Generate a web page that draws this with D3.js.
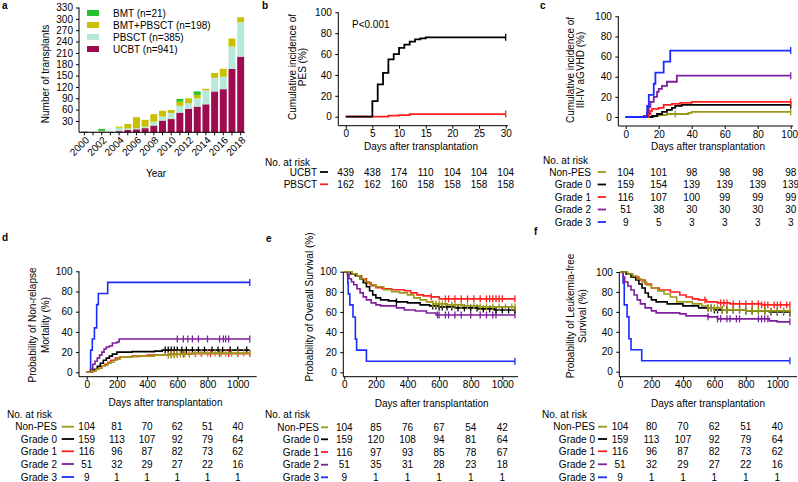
<!DOCTYPE html>
<html><head><meta charset="utf-8">
<script src="https://cdn.jsdelivr.net/npm/d3@7"></script>
<style>body{margin:0;background:#fff}svg{display:block;font-family:"Liberation Sans",Arial,sans-serif}</style>
</head><body><svg id="c" width="798" height="482"></svg>
<script>
// ---------- Panel a data ----------
const years = [2000,2001,2002,2003,2004,2005,2006,2007,2008,2009,2010,2011,2012,2013,2014,2015,2016,2017,2018];
const ucbt     = [2,1,2,1,3,6,8,11,18,31,35,52,62,68,74,108,114,168,200];
const pbsct    = [1,1,1,3,9,4,3,4,10,11,16,18,15,22,37,36,33,59,91];
const bmtPbsct = [0,0,1,0,3,12,29,18,20,15,8,11,13,9,4,13,21,21,13];
const bmt      = [0,0,5,0,0,0,0,0,0,0,0,7,0,9,0,0,0,0,0];
const legendA  = ["BMT (n=21)","BMT+PBSCT (n=198)","PBSCT (n=385)","UCBT (n=941)"];
const yTicksA  = [30,60,90,120,150,180,210,240,270,300,330];
const xLabelYears = [2000,2002,2004,2006,2008,2010,2012,2014,2016,2018];

// ---------- Panel b data ----------
const pesTicks = [0,5,10,15,20,25,30];
const pesUCBT  = [[0,0],[5,15],[6,31],[7,42],[8,55],[9,60],[10,66],[11,69],[12,72],[13,74],[14,75],[15,76],[30,76]];
const pesPBSCT = [[0,0],[8,1],[10,1.5],[12,2.5],[30,2.5]];
const pesRiskUCBT  = [439,438,174,110,104,104,104];
const pesRiskPBSCT = [162,162,160,158,158,158,158];

// ---------- Panel c data ----------
const gvhdTicks = [0,20,40,60,80,100];
const gvhdNon = [[0,0],[15,0],[17,1],[20,2],[25,3],[38,4],[40,5],[100,5]];
const gvhdG0  = [[0,0],[15,0],[16,1],[19,3],[22,5],[25,7],[28,9],[30,11],[34,12],[100,12]];
const gvhdG1  = [[0,0],[13,0],[14,3],[15,6],[16,8],[20,9],[23,12],[28,13],[33,14],[40,15],[100,15]];
const gvhdG2  = [[0,0],[10,0],[11,1],[13,4],[14,10],[15,15],[17,20],[19,25],[20,28],[22,31],[25,35],[31,41],[100,41]];
const gvhdG3  = [[0,0],[12,0],[13,11],[14,22],[17,33],[18,44],[23,55],[27,66],[100,66]];
const gvhdCensNon = [30,100];
const gvhdRisk = [[104,101,98,98,98,98],[159,154,139,139,139,139],[116,107,100,99,99,99],[51,38,30,30,30,30],[9,5,3,3,3,3]];

// ---------- Panel d data (NRM) ----------
const dayTicks = [0,200,400,600,800,1000];
const nrmNon = [[0,0],[30,1],[60,3],[80,4],[100,6],[120,7],[140,9],[160,10],[180,12],[200,13],[220,15],[300,15.5],[350,16],[450,17],[550,17.5],[600,18],[700,19],[1080,19]];
const nrmG0  = [[0,0],[30,1],[50,3],[70,6],[90,9],[110,12],[130,14],[150,16],[170,18],[200,20],[300,20.5],[450,21],[500,22],[1080,22]];
const nrmG1  = [[0,0],[40,1],[60,3],[80,4],[100,6],[120,8],[140,10],[160,12],[190,14],[220,15],[300,16],[400,17],[550,18],[650,18.5],[1080,18.5]];
const nrmG2  = [[0,0],[25,3],[40,8],[55,11],[70,14],[85,17],[100,20],[115,23],[130,25],[150,26],[170,29],[200,30],[215,33],[1080,33]];
const nrmG3  = [[0,0],[18,0],[26,22],[37,33],[51,44],[66,67],[77,78],[139,89],[1080,89]];
const nrmCensNon = [540,560,580,600,620,650,680,720,760,800,850,890,920,960,1000,1040,1080];
const nrmCensG0  = [520,540,560,580,600,630,660,700,740,780,830,870,900,950,1000,1060];
const nrmCensG1  = [560,580,600,640,680,720,760,820,880,940,1000,1080];
const nrmCensG2  = [600,640,670,700,740,800,880,905,920,940,1080];
const nrmRisk = [[104,81,70,62,51,40],[159,113,107,92,79,64],[116,96,87,82,73,62],[51,32,29,27,22,16],[9,1,1,1,1,1]];

// ---------- Panel e data (OS) ----------
const osNon = [[0,100],[50,98],[80,96],[100,93],[130,90],[160,87],[200,85],[250,82],[300,80],[350,79],[400,77],[440,74],[480,72],[520,70],[560,68],[650,67],[750,66],[850,65],[1080,65]];
const osG0  = [[0,100],[40,98],[70,96],[100,93],[120,89],[140,85],[160,81],[180,77],[200,74],[230,72],[280,71],[330,70],[400,69],[480,67],[540,66],[600,65],[700,64],[850,63],[950,62],[1080,62]];
const osG1  = [[0,100],[40,98],[80,96],[110,93],[140,89],[170,86],[200,84],[240,83],[300,82],[380,81],[420,79],[460,77],[500,76],[550,75],[600,73],[1080,73]];
const osG2  = [[0,100],[20,97],[30,93],[45,90],[60,87],[80,83],[100,79],[120,75],[140,72],[170,69],[200,67],[230,66],[330,64],[380,62],[450,61],[520,59],[580,57],[1080,57]];
const osG3  = [[0,100],[22,89],[25,78],[35,67],[55,55],[70,33],[78,22],[140,11],[1080,11]];
const osCensNon = [560,580,600,620,640,680,700,740,780,820,860,900,940,980,1020,1060,1080];
const osCensG0  = [330,560,580,600,620,650,680,720,760,800,840,880,920,960,1000,1040,1080];
const osCensG1  = [550,640,660,700,740,780,820,860,900,920,940,960,980,1000,1080];
const osCensG2  = [590,600,640,660,700,740,800,860,900,940,960,1080];
const osRisk = [[104,85,76,67,54,42],[159,120,108,94,81,64],[116,97,93,85,78,67],[51,35,31,28,23,18],[9,1,1,1,1,1]];

// ---------- Panel f data (LFS) ----------
const lfsNon = [[0,100],[50,98],[80,96],[110,93],[140,90],[170,87],[200,84],[240,81],[280,78],[320,75],[360,70],[460,68],[520,66],[560,64],[650,62],[800,61],[1080,60]];
const lfsG0  = [[0,100],[40,98],[70,95],[100,92],[120,88],[140,84],[160,79],[180,75],[200,72],[230,70],[300,68],[400,66],[500,64],[600,62],[800,61],[950,60],[1080,59]];
const lfsG1  = [[0,100],[40,98],[80,95],[120,92],[160,88],[200,84],[250,82],[320,80],[380,77],[420,75],[460,73],[500,72],[550,70],[620,69],[700,68],[900,67],[1080,67]];
const lfsG2  = [[0,100],[20,95],[30,90],[50,86],[70,82],[90,77],[110,72],[130,68],[160,64],[200,61],[230,59],[380,58],[420,56],[560,55],[620,53],[950,51],[1000,50],[1080,50]];
const lfsG3  = [[0,100],[20,89],[27,67],[45,55],[57,33],[70,22],[138,11],[1080,11]];
const lfsCensNon = [560,580,600,620,650,680,720,760,800,840,880,920,960,1000,1040,1080];
const lfsCensG0  = [560,580,600,620,650,680,720,760,800,840,880,920,960,1000,1040,1080];
const lfsCensG1  = [540,640,660,680,720,760,800,840,880,900,920,940,980,1000,1020,1060,1080];
const lfsCensG2  = [560,620,640,680,700,740,760,880,900,920,940,1080];
const lfsRisk = [[104,80,70,62,51,40],[159,113,107,92,79,64],[116,96,87,82,73,62],[51,32,29,27,22,16],[9,1,1,1,1,1]];

const groupNames = ["Non-PES","Grade 0","Grade 1","Grade 2","Grade 3"];
const groupColors = ["#9a9a18","#000000","#ff1f1f","#7e1f9e","#1a2cff"];
const barColors = {ucbt:"#9e0b4e", pbsct:"#b6e9da", bmtPbsct:"#c8c000", bmt:"#22c32a"};

const svg = d3.select("#c");

function text(g, x, y, s, o={}) {
  const t = g.append("text").attr("x", x).attr("y", y).text(s)
    .attr("font-size", o.fs || 10).attr("fill", "#000");
  if (o.anchor) t.attr("text-anchor", o.anchor);
  if (o.bold) t.attr("font-weight", "bold");
  return t;
}
function rtext(g, cx, cy, s, fs=10) {
  return g.append("text").attr("transform", `translate(${cx},${cy}) rotate(-90)`)
    .attr("text-anchor","middle").attr("font-size",fs).text(s);
}

// ---------------- Panel a ----------------
{
  const g = svg.append("g");
  const x = d3.scaleBand().domain(years).range([80,245]).paddingInner(0.2).paddingOuter(0.1);
  const y = d3.scaleLinear().domain([0,330]).range([132.3,7.5]);
  const rows = years.map((yr,i)=>({year:yr, ucbt:ucbt[i], pbsct:pbsct[i], bmtPbsct:bmtPbsct[i], bmt:bmt[i]}));
  const keys = ["ucbt","pbsct","bmtPbsct","bmt"];
  const stack = d3.stack().keys(keys)(rows);
  g.selectAll("g.s").data(stack).join("g").attr("fill", d=>barColors[d.key])
    .selectAll("rect").data(d=>d).join("rect")
    .attr("x", d=>x(d.data.year)).attr("width", x.bandwidth())
    .attr("y", d=>y(d[1])).attr("height", d=>Math.max(0, y(d[0])-y(d[1])));
  const ya = g.append("g").attr("transform","translate(79,0)")
    .call(d3.axisLeft(y).tickValues(yTicksA).tickSize(3).tickPadding(3).tickSizeOuter(0));
  ya.select(".domain").remove();
  ya.selectAll("text").attr("font-size",10).attr("font-family",null);
  g.append("line").attr("x1",79).attr("x2",79).attr("y1",y(330)).attr("y2",y(0)).attr("stroke","#000");
  g.append("line").attr("x1",79).attr("x2",245).attr("y1",y(0)).attr("y2",y(0)).attr("stroke","#000");
  years.forEach(yr=>{
    const cx = x(yr)+x.bandwidth()/2;
    g.append("line").attr("x1",cx).attr("x2",cx).attr("y1",y(0)).attr("y2",y(0)+3).attr("stroke","#000");
  });
  xLabelYears.forEach(yr=>{
    const cx = x(yr)+x.bandwidth()/2;
    g.append("text").attr("transform",`translate(${cx+3},${y(0)+6}) rotate(-45)`)
      .attr("text-anchor","end").attr("dy","0.35em").attr("font-size",10).text(yr);
  });
  text(g, 156, 177, "Year", {anchor:"middle"});
  rtext(g, 48.5, 74, "Number of transplants");
  const legCols = [barColors.bmt, barColors.bmtPbsct, barColors.pbsct, barColors.ucbt];
  legendA.forEach((s,i)=>{
    const cy = 13 + i*12;
    g.append("rect").attr("x",87).attr("y",cy-3).attr("width",12).attr("height",6).attr("fill",legCols[i]);
    text(g, 113, cy+3.5, s);
  });
  text(g, 2, 9, "a", {bold:true});
}

// ---------------- generic KM panel ----------------
function stepValue(data, t) {
  let v = data[0][1];
  for (const p of data) { if (p[0] <= t) v = p[1]; }
  return v;
}
function kmPanel(cfg) {
  const g = svg.append("g");
  const x = d3.scaleLinear().domain(cfg.xDomain).range(cfg.xRange);
  const y = d3.scaleLinear().domain([0,100]).range(cfg.yRange);
  // axes
  const ya = g.append("g").attr("transform",`translate(${cfg.yAxisX},0)`)
    .call(d3.axisLeft(y).tickValues([0,20,40,60,80,100]).tickFormat(d3.format("d")).tickSize(3).tickPadding(3.5).tickSizeOuter(0));
  ya.select(".domain").remove();
  ya.selectAll("text").attr("font-size",10).attr("font-family",null);
  const xa = g.append("g").attr("transform",`translate(0,${cfg.xAxisY})`)
    .call(d3.axisBottom(x).tickValues(cfg.ticks).tickFormat(d3.format("d")).tickSize(3).tickPadding(1.5).tickSizeOuter(0));
  xa.select(".domain").remove();
  xa.selectAll("text").attr("font-size",10).attr("font-family",null);
  if (cfg.lastTickDx) xa.selectAll(".tick:last-of-type text").attr("dx", cfg.lastTickDx);
  g.append("line").attr("x1",cfg.yAxisX).attr("x2",cfg.yAxisX).attr("y1",y(100)).attr("y2",cfg.xAxisY).attr("stroke","#000");
  g.append("line").attr("x1",cfg.yAxisX).attr("x2",cfg.xEnd).attr("y1",cfg.xAxisY).attr("y2",cfg.xAxisY).attr("stroke","#000");
  // curves
  const line = d3.line().x(d=>x(d[0])).y(d=>y(d[1])).curve(d3.curveStepAfter);
  cfg.curves.forEach(c=>{
    g.append("path").attr("d", line(c.data)).attr("fill","none").attr("stroke",c.color)
      .attr("stroke-width", cfg.lw || 1.6);
    (c.censor||[]).forEach(t=>{
      const cx = x(t), cy = y(stepValue(c.data,t));
      g.append("line").attr("x1",cx).attr("x2",cx).attr("y1",cy-3.5).attr("y2",cy+3.5)
        .attr("stroke",c.color).attr("stroke-width",1.3);
    });
  });
  // titles
  text(g, cfg.xTitle[0], cfg.xTitle[1], "Days after transplantation", {anchor:"middle"});
  cfg.yTitle.forEach((s,i)=> rtext(g, cfg.yTitleX[i], cfg.yTitleY, s));
  text(g, cfg.letter[1], cfg.letter[2], cfg.letter[0], {bold:true});
  // at risk table
  text(g, cfg.riskX, cfg.riskY, "No. at risk");
  cfg.risk.forEach((r,i)=>{
    const cy = cfg.rowY[i];
    text(g, cfg.labelEnd, cy+3.5, r.name, {anchor:"end"});
    g.append("line").attr("x1",cfg.lineX[0]).attr("x2",cfg.lineX[1]).attr("y1",cy).attr("y2",cy)
      .attr("stroke",r.color).attr("stroke-width",1.8);
    r.values.forEach((v,j)=> text(g, x(cfg.ticks[j]), cy+3.5, v, {anchor:"middle"}));
  });
  return g;
}

// ---------------- Panel b ----------------
{
  const g = kmPanel({
    xDomain:[0,30], xRange:[345.7,505.7], yRange:[116.7,12.3], yAxisX:338.3, xAxisY:125.7, xEnd:508,
    ticks: pesTicks, lw:1.8,
    curves:[{data:pesPBSCT, color:"#ff1f1f", censor:[30]},{data:pesUCBT, color:"#000", censor:[30]}],
    xTitle:[421,149.5], yTitle:["Cumulative incidence of","PES (%)"], yTitleX:[295.5,306.2], yTitleY:67,
    letter:["b",262,9],
    riskX:265, riskY:165.5, rowY:[172,184.3], labelEnd:317, lineX:[320,328],
    risk:[{name:"UCBT",color:"#000",values:pesRiskUCBT},{name:"PBSCT",color:"#ff1f1f",values:pesRiskPBSCT}]
  });
  text(g, 352, 27.5, "P<0.001");
}

// ---------------- Panel c ----------------
kmPanel({
  xDomain:[0,100], xRange:[625.7,790.7], yRange:[117,16.3], yAxisX:618.3, xAxisY:126, xEnd:793,
  ticks: gvhdTicks, lw:1.8, lastTickDx:-1.5,
  curves:[
    {data:gvhdNon, color:groupColors[0], censor:gvhdCensNon},
    {data:gvhdG0, color:groupColors[1], censor:[100]},
    {data:gvhdG1, color:groupColors[2], censor:[100]},
    {data:gvhdG2, color:groupColors[3], censor:[100]},
    {data:gvhdG3, color:groupColors[4], censor:[100]}],
  xTitle:[708,149.5], yTitle:["Cumulative incidence of","III-IV aGVHD (%)"], yTitleX:[573.5,584.2], yTitleY:70,
  letter:["c",540,9],
  riskX:543, riskY:163.5, rowY:[172,184.5,197,209.5,222], labelEnd:591, lineX:[597.7,606],
  risk: groupNames.map((n,i)=>({name:n, color:groupColors[i], values:gvhdRisk[i]}))
});

// ---------------- Panel d ----------------
kmPanel({
  xDomain:[0,1000], xRange:[86.7,237.7], yRange:[372.3,271.3], yAxisX:79, xAxisY:376.7, xEnd:256.7,
  ticks: dayTicks, lw:1.6,
  curves:[
    {data:nrmG3, color:groupColors[4], censor:[1080]},
    {data:nrmG2, color:groupColors[3], censor:nrmCensG2},
    {data:nrmG0, color:groupColors[1], censor:nrmCensG0},
    {data:nrmG1, color:groupColors[2], censor:nrmCensG1},
    {data:nrmNon, color:groupColors[0], censor:nrmCensNon}],
  xTitle:[165.5,405.5], yTitle:["Probability of Non-relapse","Mortality (%)"], yTitleX:[35.5,49], yTitleY:325,
  letter:["d",2,241],
  riskX:7, riskY:417.5, rowY:[426.7,439,451.3,464,477], labelEnd:57, lineX:[61.7,74],
  risk: groupNames.map((n,i)=>({name:n, color:groupColors[i], values:nrmRisk[i]}))
});

// ---------------- Panel e ----------------
kmPanel({
  xDomain:[0,1000], xRange:[344.3,502.3], yRange:[372.3,271.7], yAxisX:343.3, xAxisY:376.7, xEnd:518,
  ticks: dayTicks, lw:1.6,
  curves:[
    {data:osG3, color:groupColors[4], censor:[1080]},
    {data:osG2, color:groupColors[3], censor:osCensG2},
    {data:osG1, color:groupColors[2], censor:osCensG1},
    {data:osG0, color:groupColors[1], censor:osCensG0},
    {data:osNon, color:groupColors[0], censor:osCensNon}],
  xTitle:[431.7,406.5], yTitle:["Probability of Overall Survival (%)"], yTitleX:[312.5], yTitleY:307,
  letter:["e",266,242],
  riskX:265, riskY:417.5, rowY:[427.3,439.3,452,464.7,477.3], labelEnd:319, lineX:[321,328],
  risk: groupNames.map((n,i)=>({name:n, color:groupColors[i], values:osRisk[i]}))
});

// ---------------- Panel f ----------------
kmPanel({
  xDomain:[0,1000], xRange:[620,777.3], yRange:[371.7,272], yAxisX:619.3, xAxisY:376.7, xEnd:797,
  ticks: dayTicks, lw:1.6,
  curves:[
    {data:lfsG3, color:groupColors[4], censor:[1080]},
    {data:lfsG2, color:groupColors[3], censor:lfsCensG2},
    {data:lfsG1, color:groupColors[2], censor:lfsCensG1},
    {data:lfsG0, color:groupColors[1], censor:lfsCensG0},
    {data:lfsNon, color:groupColors[0], censor:lfsCensNon}],
  xTitle:[708,406.5], yTitle:["Probability of Leukemia-free","Survival (%)"], yTitleX:[573.5,585.5], yTitleY:316,
  letter:["f",534,235],
  riskX:542, riskY:417.5, rowY:[426.7,439,451.3,464.3,477.3], labelEnd:595, lineX:[598,607],
  risk: groupNames.map((n,i)=>({name:n, color:groupColors[i], values:lfsRisk[i]}))
});
</script></body></html>
